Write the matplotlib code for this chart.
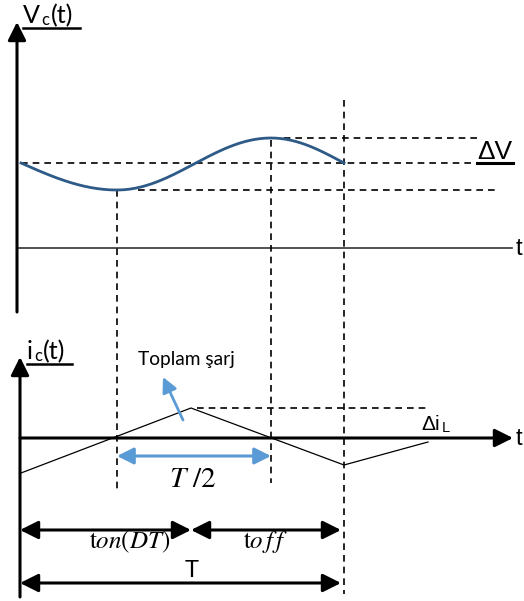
import matplotlib
matplotlib.use("Agg")
import matplotlib.pyplot as plt
import numpy as np

# ---- diagram data (pixel-like coordinates of the sketch, y grows downward) ----
# capacitor voltage: knots (time, level) of the smooth ripple
vc_knot_t = [21, 117, 271, 344]
vc_knot_v = [163, 190, 138, 163]
# capacitor current: triangular waveform corners
ic_t = [21, 191, 344, 428]
ic_v = [473, 408, 465, 442]
# time marks
t_axis0 = 20
t_on = 191
t_half = [117, 271]
t_period = 344

plt.rcParams['mathtext.fontset'] = 'custom'
plt.rcParams['mathtext.rm'] = 'Lato'
plt.rcParams['mathtext.it'] = 'Lato:italic'

fig = plt.figure(figsize=(5.24, 6.01), dpi=100)
ax = fig.add_axes([0, 0, 1, 1])
ax.set_xlim(0, 524)
ax.set_ylim(601, 0)
ax.axis('off')

blk = 'black'
dash = dict(color=blk, lw=1.2, ls=(0, (4, 3)))

def arrow(x0, y0, x1, y1, style='-|>', color=blk, lw=2.2, hl=11, hw=5.5):
    ax.annotate('', xy=(x1, y1), xytext=(x0, y0),
                arrowprops=dict(arrowstyle=f'{style},head_length={hl},head_width={hw}',
                                color=color, lw=lw, mutation_scale=1,
                                shrinkA=0, shrinkB=0))

# ---------------- top: Vc(t) ----------------
arrow(17, 312, 17, 22, lw=2.2)
ax.plot([17, 512], [248, 248], color='#333333', lw=1.2)
ax.text(516, 249, 't', fontsize=17, family='Liberation Sans', va='center', ha='left')

# smooth voltage ripple, piecewise cosine between knots
xs, ys = [], []
for i in range(len(vc_knot_t) - 1):
    ta, tb = vc_knot_t[i], vc_knot_t[i + 1]
    va, vb = vc_knot_v[i], vc_knot_v[i + 1]
    s = np.linspace(0, 1, 60)
    if i == 0:
        w = np.sin(s * np.pi / 2)          # start at mean, ease into minimum
    elif i == len(vc_knot_t) - 2:
        w = 1 - np.cos(s * np.pi / 2)      # leave maximum, reach mean
    else:
        w = (1 - np.cos(s * np.pi)) / 2
    xs.extend(ta + (tb - ta) * s)
    ys.extend(va + (vb - va) * w)
ax.plot(xs, ys, color='#2e5a87', lw=2.0, zorder=3)

vmean, vmin, vmax = vc_knot_v[0], vc_knot_v[1], vc_knot_v[2]
ax.plot([21, 498], [vmean, vmean], **dash)
ax.plot([138, 497], [vmin, vmin], **dash)
ax.plot([272, 477], [vmax, vmax], **dash)

ax.text(23, 23, 'V', fontsize=18, family='Lato', va='baseline', ha='left')
ax.text(41, 25, 'c', fontsize=12, family='Lato', va='baseline', ha='left')
ax.text(51, 23, '(t)', fontsize=18, family='Lato', va='baseline', ha='left')
ax.plot([23, 80], [28, 28], color=blk, lw=1.8)

ax.text(495, 159, 'ΔV', fontsize=19, family='Liberation Sans', va='baseline', ha='center')
ax.plot([477, 513], [163, 163], color=blk, lw=2.2)

# vertical dashed guides
ax.plot([t_half[0], t_half[0]], [vmin, 493], **dash)
ax.plot([t_half[1], t_half[1]], [140, 483], **dash)
ax.plot([t_period, t_period], [100, 594], **dash)

# ---------------- bottom: ic(t) ----------------
arrow(20, 597, 20, 357, lw=2.2)
arrow(20, 438, 513, 438, lw=2.2)
ax.text(516, 439, 't', fontsize=17, family='Liberation Sans', va='center', ha='left')

ax.text(27, 359, 'i', fontsize=18, family='Lato', va='baseline', ha='left')
ax.text(34, 361, 'c', fontsize=12, family='Lato', va='baseline', ha='left')
ax.text(43, 359, '(t)', fontsize=18, family='Lato', va='baseline', ha='left')
ax.plot([27, 72], [364, 364], color=blk, lw=1.8)

ax.plot(ic_t, ic_v, color=blk, lw=0.9)
ax.plot([197, 428], [ic_v[1], ic_v[1]], **dash)
ax.text(421, 430, 'Δi', fontsize=15, family='Liberation Sans', va='baseline', ha='left')
ax.text(442, 432, 'L', fontsize=10.5, family='Liberation Sans', va='baseline', ha='left')

ax.text(138, 365, 'Toplam şarj', fontsize=13.8, family='Lato', va='baseline', ha='left')
arrow(183, 420, 163, 377, color='#5b9bd5', lw=2.0, hl=9, hw=4.5)

arrow(t_half[0], 456, t_half[1], 456, style='<|-|>', color='#5b9bd5', lw=2.2, hl=10, hw=5)
ax.text(193, 487, r'$T\,\,/2$', fontsize=21, math_fontfamily='stix',
        va='baseline', ha='center')

arrow(t_axis0, 530, t_on, 530, style='<|-|>', lw=2.2, hl=11, hw=5.5)
arrow(t_on, 530, t_period - 3, 530, style='<|-|>', lw=2.2, hl=11, hw=5.5)
ax.text(130, 548, r'$\mathrm{t}on(DT)$', fontsize=18, math_fontfamily='stix',
        va='baseline', ha='center')
ax.text(266, 548, r'$\mathrm{t}o\,f\,f$', fontsize=18, math_fontfamily='stix',
        va='baseline', ha='center')

arrow(t_axis0, 583, t_period - 3, 583, style='<|-|>', lw=2.2, hl=11, hw=5.5)
ax.text(192, 577, 'T', fontsize=17, family='Lato', va='baseline', ha='center')

fig.savefig('out.png', dpi=100)
